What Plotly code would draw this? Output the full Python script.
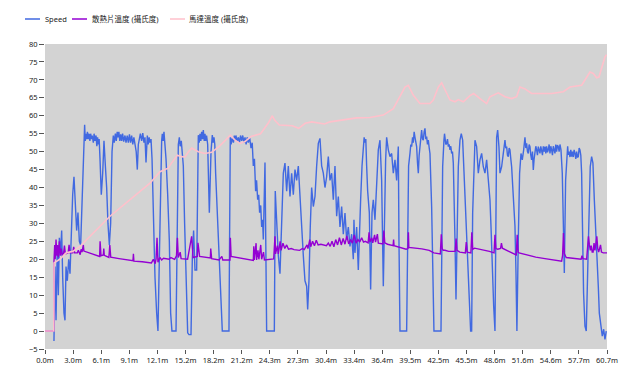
import numpy as np
import plotly.graph_objects as go

# ---- data (minutes, values) ----
speed_t = [0.97, 1.08, 1.19, 1.33, 1.44, 1.55, 1.69, 1.80, 1.91, 2.05, 2.16, 2.27, 2.41, 2.56, 2.70,
           2.84, 2.99, 3.13, 3.28, 3.42, 3.56, 3.71, 3.85, 4.00, 4.14, 4.28,
           4.35, 4.43, 4.50, 4.58, 4.68, 4.76, 4.85, 4.93, 5.02, 5.10, 5.22, 5.30, 5.40, 5.51, 5.60,
           5.68, 5.76, 5.85, 5.94, 6.08, 6.23, 6.37, 6.52, 6.66, 6.80, 6.95, 7.09, 7.24, 7.38,
           7.48, 7.60, 7.70, 7.80, 7.88, 7.98, 8.08, 8.18, 8.28, 8.38, 8.50, 8.64, 8.75, 8.88, 9.00,
           9.12, 9.24, 9.36, 9.48, 9.60, 9.72, 9.85, 9.97, 10.08, 10.19, 10.30, 10.44, 10.56, 10.69,
           10.80, 10.91, 11.00, 11.05, 11.15, 11.25, 11.34, 11.45, 11.56, 11.70, 11.88, 12.06, 12.20,
           12.35, 12.49, 12.60, 12.67, 12.76, 12.85, 12.95, 13.07, 13.25, 13.43, 13.57, 13.71, 14.15,
           14.29, 14.40, 14.51, 14.60, 14.72, 14.82, 14.94, 15.08, 15.30, 15.41, 15.55, 15.77, 15.91,
           16.05, 16.20, 16.38, 16.56, 16.65, 16.74, 16.83, 16.92, 17.01, 17.10, 17.20, 17.28, 17.35,
           17.45, 17.57, 17.75, 17.93, 18.07, 18.16, 18.25, 18.34, 18.43, 18.61, 18.79, 18.97, 19.15,
           19.87, 20.01, 20.10, 20.23, 20.35, 20.45, 20.52, 20.62, 20.75, 20.88, 21.00, 21.12, 21.24,
           21.36, 21.48, 21.60, 21.72, 21.84, 21.96, 22.10, 22.25, 22.38, 22.50, 22.62, 22.75, 22.85,
           22.97, 23.08, 23.18, 23.30, 23.40, 23.50, 23.58, 23.76, 23.94, 24.77, 24.87, 25.02, 25.20,
           25.38, 25.56, 25.74, 25.92, 26.10, 26.28, 26.46, 26.64, 26.82, 27.00, 27.18, 27.36, 27.54,
           27.72, 27.90, 28.08, 28.26, 28.37, 28.51, 28.65, 28.80, 28.98, 29.16, 29.34, 29.52, 29.70,
           29.88, 30.06, 30.24, 30.42, 30.60, 30.78, 30.96, 31.14, 31.32, 31.50, 31.68, 31.86, 32.04,
           32.22, 32.40, 32.58, 32.76, 32.94, 33.12, 33.30, 33.37, 33.48, 33.66, 33.84, 33.95, 34.09,
           34.24, 34.38, 34.47, 34.56, 34.65, 34.74, 34.85, 35.03, 35.17, 35.32, 35.46, 35.64, 35.82,
           36.00, 36.18, 36.36, 36.54, 36.65, 36.79, 36.90, 37.08, 37.26, 37.44, 37.62, 37.80, 37.98,
           38.16, 38.23, 38.34, 39.06, 39.17, 39.27, 39.42, 39.51, 39.60, 39.70, 39.78, 39.87, 39.96,
           40.05, 40.14, 40.23, 40.32, 40.41, 40.50, 40.59, 40.68, 40.77, 40.86, 40.95, 41.04, 41.13,
           41.22, 41.31, 41.40, 41.50, 41.58, 41.76, 41.87, 42.01, 42.77, 42.84, 42.95, 43.09, 43.15,
           43.20, 43.29, 43.38, 43.47, 43.56, 43.65, 43.74, 43.83, 43.92, 44.01, 44.10, 44.17, 44.28,
           44.39, 44.49, 44.64, 44.82, 44.96, 45.11, 45.25, 45.36, 45.47, 45.57, 45.68, 45.83, 45.97,
           46.08, 46.19, 46.33, 46.44, 46.62, 46.80, 46.98, 47.16, 47.34, 47.52, 47.70, 47.88, 48.06,
           48.17, 48.31, 48.46, 48.60, 48.67, 48.78, 48.89, 49.03, 49.14, 49.32, 49.50, 49.59, 49.68,
           49.77, 49.86, 49.95, 50.04, 50.13, 50.22, 50.31, 50.40, 50.58, 50.76, 50.87, 50.97, 51.12,
           51.26, 51.41, 51.55, 51.70, 51.84, 51.93, 52.02, 52.11, 52.20, 52.29, 52.38, 52.47, 52.56,
           52.65, 52.74, 52.83, 52.92, 53.01, 53.10, 53.19, 53.28, 53.37, 53.46, 53.55, 53.64, 53.73,
           53.82, 53.91, 54.00, 54.09, 54.18, 54.27, 54.36, 54.45, 54.54, 54.63, 54.72, 54.81, 54.90,
           54.99, 55.08, 55.17, 55.26, 55.35, 55.44, 55.53, 55.62, 55.73, 55.87, 56.02, 56.09, 56.23,
           56.38, 56.45, 56.52, 56.61, 56.70, 56.79, 56.88, 56.97, 57.06, 57.15, 57.24, 57.33, 57.42,
           57.51, 57.60, 57.69, 57.78, 57.87, 57.96, 58.07, 58.17, 58.32, 58.46, 58.61, 58.75, 58.89,
           59.04, 59.18, 59.33, 59.47, 59.62, 59.76, 59.87, 60.05, 60.19, 60.34, 60.48, 60.62]
speed_v = [-2.8, 18, 3, 24, 10, 26, 22, 28, 15, 5, 3, 18, 14, 20, 16,
           28, 38, 43, 35, 28, 33, 25, 24, 38, 50, 57.5,
           53, 55, 53.5, 55.5, 53.5, 55, 53, 55, 53.5, 54.5, 52.5, 55, 53, 54.5, 51.5,
           54, 52, 53.5, 48, 38, 44, 53, 46, 40, 30, 24, 30, 50, 54.5,
           52.5, 55, 53, 55.5, 54, 55.5, 53, 54.8, 53, 55, 52.8, 54.5, 52.5, 54.5, 52.5,
           54.8, 52.5, 54.5, 52, 54, 52.5, 50, 45, 52, 53.5, 55, 53, 55.2, 52.5,
           54, 47, 53, 54.5, 52, 54, 52.5, 53.5, 48, 30, 15, 5, 0,
           20, 46, 53, 55, 53, 55.5, 52, 48, 38, 25, 5, 0, 0,
           35, 52, 54, 51.5, 53, 50, 46, 30, 5, -0.5, -1, -1, 20,
           28, 17, 17, 54.6, 52.5, 55, 53, 55.5, 53.5, 56, 53, 55, 53,
           54.5, 52, 33, 50, 54.6, 52.5, 54, 52, 44, 33, 22, 9, 0,
           0, 54, 52, 54, 52.5, 54.5, 53, 54.5, 52.8, 54, 52.5, 54.5, 53,
           54.5, 52.5, 54, 52, 54, 52.5, 54, 51, 52.5, 46, 48, 39, 42,
           36.6, 38, 33, 35, 29, 31, 25.5, 47, 0, 0, 39, 30, 21,
           16, 29, 44, 46.8, 39, 46, 37.5, 44, 38, 45, 42, 46, 36.6,
           27, 21, 14, 12.5, 6, 14, 29, 40, 34.7, 37.5, 46, 52.3, 53.7,
           46, 44, 40, 43, 48.6, 42, 44, 36.6, 46, 32, 37.5, 29, 34.7,
           27, 32.9, 25.5, 29, 23.6, 27, 20, 31, 21.8, 29, 17, 23.6, 36.6,
           46, 51.4, 54, 52.5, 53.5, 46, 39, 33, 11.6, 33, 36.6, 31, 42,
           50.5, 53.2, 42, 12.5, 34.7, 47.7, 54, 50.5, 48.6, 49.5, 44, 47.7, 42,
           51.4, 25.5, 0, 0, 25.5, 46, 49.5, 52, 51.4, 54, 52.5, 55.5, 54,
           52.5, 51.4, 47, 44, 49, 51.4, 54, 56, 53.5, 53.2, 55.5, 56.5, 53.5,
           54.2, 52, 53.2, 51, 49.5, 34.7, 16.2, 0, 0, 25.5, 45.8, 53.2, 55,
           54, 52, 52.3, 53.5, 51.4, 52, 50.5, 51.5, 49.5, 50, 46.8, 32.9, 25.5,
           8.8, 21.8, 45.8, 53.2, 55, 53.2, 44, 34.7, 30, 21.8, 14.4, 8.8, 0,
           0, 32.9, 45.8, 53.2, 51.4, 44, 47.7, 49.5, 45.8, 44, 47.7, 42, 36.6,
           29.2, 16.2, 7, 0, 34.7, 54, 56, 51.4, 44, 45.8, 49.5, 52, 53.2,
           51, 51.4, 49, 48.6, 51, 50.5, 48, 45.8, 37.5, 29.2, 16.2, 0, 25.5,
           44, 49.5, 47.7, 50.5, 54, 51, 52.3, 50, 49.5, 52, 51.4, 49, 47.7,
           50, 44.9, 48, 49.5, 51.5, 50.5, 49, 51.4, 50, 49.5, 51.5, 50.5, 49,
           51.5, 50, 51.4, 49.5, 51.5, 49.8, 50.5, 52, 49.5, 51.5, 50.5, 49, 51.5,
           50, 49.5, 52, 50, 51.8, 51.4, 50, 52, 50.5, 44, 25.5, 16.2, 42,
           49.5, 51.5, 49.1, 50, 48.5, 50.5, 48.6, 50, 48.5, 50.5, 49.5, 48, 50,
           48.5, 48.6, 51, 50.5, 49, 44, 25.5, 10.6, 1.4, 0, 16.2, 34.7, 45.8,
           48.6, 46.8, 36.6, 29.2, 23.6, 12.5, 5, 1.4, -1.4, 0.5, -2.3, 0]

sink_t = [0, 0.95, 0.97, 1.05, 1.10, 1.19, 1.28, 1.36, 1.44, 1.55, 1.65, 1.75, 1.85, 2.0, 2.1, 2.2,
          2.5, 2.6, 2.7, 3.0, 3.1, 3.2, 3.5, 3.6, 3.8, 3.9, 4.0, 4.14, 4.2, 5.0, 5.9, 5.95, 6.05,
          6.3, 6.35, 6.4, 6.9, 7.0, 7.1, 8.0, 9.0, 9.5, 9.55, 9.6, 10.5, 11.5, 11.7, 11.9, 12.0,
          12.1, 12.2, 12.4, 12.6, 12.8, 13.4, 13.6, 14.0, 14.2, 14.3, 14.4, 14.6, 14.7, 15.4,
          15.84, 15.99, 16.45, 16.52, 16.7, 17.86, 17.9, 18.0, 18.8, 19.1, 19.2, 19.98, 20.02,
          20.1, 22.3, 22.5, 22.55, 22.6, 22.8, 22.85, 23.0, 23.1, 23.3, 23.4, 23.6, 23.7, 24.7,
          24.84, 24.9, 25.1, 25.2, 25.4, 25.5, 25.7, 25.9, 26.1, 26.3, 26.6, 26.9, 27.2, 27.5,
          27.8, 28.0, 28.3, 28.4, 28.6, 28.7, 28.9, 29.1, 29.3, 29.5, 29.8, 30.1, 30.4, 30.6,
          30.8, 31.0, 31.2, 31.4, 31.6, 31.8, 32.0, 32.2, 32.4, 32.6, 32.8, 33.0, 33.2, 33.4,
          33.6, 33.8, 34.0, 34.2, 34.4, 34.6, 34.9, 35.0, 35.1, 35.3, 35.4, 35.6, 35.7, 35.9,
          36.0, 36.5, 36.6, 36.7, 37.0, 37.6, 37.65, 37.7, 38.2, 39.0, 39.2, 39.25, 39.3, 40.0,
          40.7, 41.5, 42.0, 42.7, 42.8, 42.9, 43.0, 43.2, 43.6, 44.3, 44.4, 44.5, 44.8, 45.4,
          45.5, 45.6, 46.0, 46.1, 46.2, 46.4, 47.0, 48.0, 48.5, 48.6, 48.7, 48.9, 49.2, 49.3,
          49.4, 50.0, 50.9, 51.0, 51.1, 51.2, 52.0, 53.0, 54.0, 55.0, 55.8, 55.9, 56.0, 56.1,
          56.3, 57.0, 57.9, 58.0, 58.1, 58.5, 58.7, 58.8, 58.9, 59.0, 59.1, 59.2, 59.3, 59.4,
          59.5, 59.6, 59.7, 59.8, 60.0, 60.1, 60.3, 60.7]
sink_v = [0, 0, 19.5, 24, 20, 25.5, 21, 24, 20.5, 25, 21, 23, 21.3, 21.5, 23.8, 21.5,
          21.8, 24, 21.8, 21.8, 23.5, 21.8, 21.8, 22.5, 21.3, 22.8, 22, 24, 22.3, 21.6, 20.8, 25, 21,
          21.2, 23, 21.1, 20.5, 24, 20.6, 20.2, 19.7, 19.6, 21.5, 19.5, 19.3, 19.0, 20, 18.8, 20.2,
          26, 19.2, 20.5, 19.8, 20.3, 20.0, 20.5, 20, 21, 26, 20.5, 22, 20.2, 20.0,
          26.4, 20.5, 20.8, 24.6, 20.8, 20.4, 23, 20.2, 19.8, 20.8, 19.8, 19.8, 26,
          20.8, 19.7, 19.7, 23.6, 19.8, 24.5, 19.8, 22.5, 20, 24, 20, 22, 19.8, 20.1,
          26.4, 21.5, 23.8, 21.5, 25, 22.5, 24.5, 23, 24, 22.8, 23, 22.7, 22.5, 22.5,
          23, 22.7, 24, 23, 25.5, 23.5, 25, 23.8, 25.3, 24, 24.2, 24, 23.8, 24.5,
          23.6, 25, 23.5, 25.5, 24, 26, 24, 25.8, 24.2, 26.5, 24.3, 25.5, 24.5, 26.8,
          24.5, 25.5, 24.8, 26, 24.8, 25, 24.6, 27.5, 24.8, 26, 24.6, 26.8, 24.8, 27,
          24.5, 24.3, 28, 24.6, 24.2, 23.8, 25.5, 23.8, 23.4, 22.8, 23, 27.5, 23.3, 23.2,
          22.9, 22.5, 21.8, 21.5, 27, 23, 22.5, 22.5, 22.2, 22.2, 25.8, 22.5, 22, 21.8,
          24.8, 22, 21.8, 27.5, 22.8, 23.1, 22.8, 22.2, 21.8, 26.8, 23, 22.8, 23, 24.5,
          23.1, 22.3, 21.2, 26.8, 22, 21.8, 21.2, 20.6, 20.2, 19.9, 19.5, 21, 27.3, 21.5,
          20.5, 20.3, 20.0, 21, 20.2, 20.0, 26.4, 24, 22.5, 23.8, 22, 22, 24.5, 22.5,
          25, 26.4, 23, 22, 24, 22, 21.8, 21.8]

motor_t = [0, 0.95, 0.98, 1.6, 2.3, 3.0, 3.78, 4.3, 5.2, 5.94, 7.02, 8.1, 9.18, 10.26, 11.34,
           12.42, 13.3, 13.66, 14.29, 14.72, 15.12, 15.5, 15.84, 16.56, 17.28, 18.0, 18.79,
           19.5, 20.01, 20.52, 21.06, 21.6, 22.25, 23.28, 24.1, 24.55, 24.8, 25.3, 26.0, 26.7,
           27.4, 28.1, 28.8, 29.5, 30.2, 30.78, 32.22, 33.66, 35.1, 35.82, 36.54, 37.62, 38.34,
           38.88, 39.24, 39.78, 40.5, 41.58, 41.94, 42.48, 42.84, 43.2, 43.74, 44.28, 44.64,
           45.18, 45.9, 46.3, 46.8, 47.16, 47.7, 48.06, 48.96, 49.68, 50.4, 50.94, 51.3, 51.84,
           52.56, 53.64, 54.72, 55.98, 56.7, 57.96, 58.5, 58.86, 59.22, 59.58, 59.83, 60.12,
           60.48, 60.65]
motor_v = [0, 0, 19, 20, 21.8, 22.2, 23.6, 25, 27.3, 29.2, 32, 34.3, 36.6, 38.9, 41.2,
           44.4, 45.4, 46.8, 49, 48.6, 48.5, 50, 51, 50, 49.5, 49.8, 51.4,
           53.2, 54.6, 53.2, 52.3, 52.8, 54.2, 55, 57.9, 60, 58.8, 57.4, 57.4, 57.2,
           56.5, 57.9, 58.3, 57.9, 57.7, 58.3, 58.8, 59.4, 59.5, 59.9, 60.2, 62, 65.3,
           68, 68.5, 65.7, 63.4, 63.4, 64.4, 68, 69.2, 67.1, 64.4, 63.9, 64.5,
           63.9, 65.6, 66.2, 65, 64.4, 63.4, 65.3, 66.4, 65.3, 64.8, 65.3, 68, 67.5,
           66.2, 66.2, 66.2, 66.7, 68, 68.5, 70.8, 72.2, 71.8, 70.6, 70.8, 73.6,
           76.4, 77]

x_max = 60.7
n_ticks = 21
series_names = ["Speed", "散熱片溫度 (攝氏度)", "馬達溫度 (攝氏度)"]
series_colors = ["#4169E1", "#9400D3", "#FFC0CB"]

# ---- figure ----
# the page has an 8px body margin, so the figure is sized/offset to compensate
FONT = "Noto Sans, Noto Sans CJK TC, sans-serif"
W, H = 632, 374
ML, MR, MT, MB = 37, 33, 36, 33
PW, PH = W - ML - MR, H - MT - MB

fig = go.Figure()
for t, v, name, color, width in [(speed_t, speed_v, series_names[0], series_colors[0], 1.4),
                                 (sink_t, sink_v, series_names[1], series_colors[1], 1.4),
                                 (motor_t, motor_v, series_names[2], series_colors[2], 1.6)]:
    fig.add_trace(go.Scatter(x=t, y=v, mode="lines", name=name,
                             line=dict(color=color, width=width), showlegend=False))

tickvals = list(np.linspace(0, x_max, n_ticks))
ticktext = [f"{v:.1f}m" for v in tickvals]

# legend drawn as short line samples + text (figure pixel positions -> paper coords)
def px_x(fx):
    return (fx - ML) / PW


def px_y(fy):
    return 1 + (MT - fy) / PH


legend_items = [(17, 32, 35), (64, 79, 82), (162, 177, 179)]
shapes, annotations = [], []
for (x0, x1, tx), name, color in zip(legend_items, series_names, series_colors):
    shapes.append(dict(type="line", xref="paper", yref="paper",
                       x0=px_x(x0), x1=px_x(x1), y0=px_y(11), y1=px_y(11),
                       line=dict(color=color, width=1.5)))
    annotations.append(dict(xref="paper", yref="paper", x=px_x(tx), y=px_y(11),
                            xanchor="left", yanchor="middle", text=name, showarrow=False,
                            font=dict(size=7.5, family=FONT, color="#222222")))

fig.update_layout(
    width=W, height=H,
    margin=dict(l=ML, r=MR, t=MT, b=MB, autoexpand=False),
    paper_bgcolor="white", plot_bgcolor="#D3D3D3",
    font=dict(family=FONT, size=7, color="#222222"),
    showlegend=False,
    shapes=shapes, annotations=annotations,
    xaxis=dict(range=[0, x_max], tickvals=tickvals, ticktext=ticktext, showgrid=False,
               zeroline=False, ticks="outside", ticklen=4, tickcolor="#555555",
               showline=False, tickfont=dict(size=7.5), tickangle=0, automargin=False),
    yaxis=dict(range=[-5, 80], dtick=5, tick0=0, showgrid=False, zeroline=False,
               ticks="outside", ticklen=5, tickcolor="#555555", showline=False,
               tickfont=dict(size=7.5), automargin=False),
)
fig.write_html("out.html")
